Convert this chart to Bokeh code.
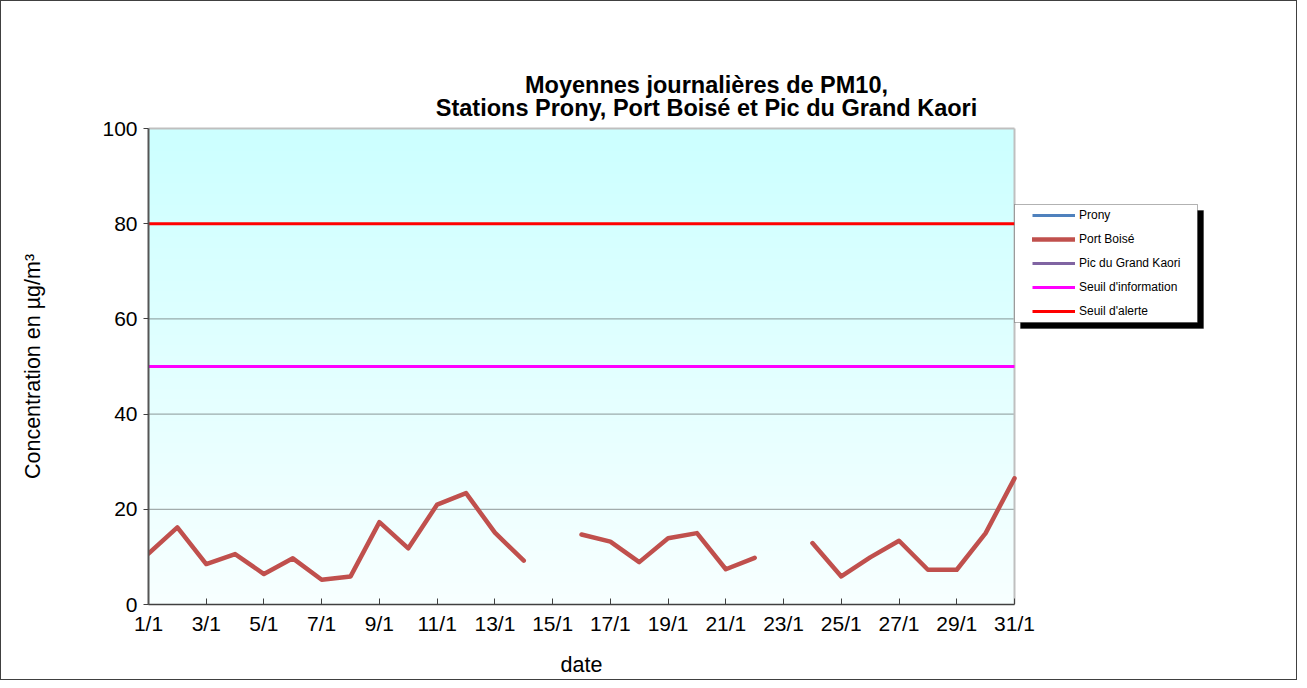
import numpy as np
from bokeh.plotting import figure
from bokeh.layouts import column
from bokeh.models import (Range1d, FixedTicker, Legend, LegendItem, BoxAnnotation,
                          Label, ColumnDataSource)
from bokeh.embed import file_html
from bokeh.resources import INLINE

# ---------------- data ----------------
dates = ["1/1", "2/1", "3/1", "4/1", "5/1", "6/1", "7/1", "8/1", "9/1", "10/1",
         "11/1", "12/1", "13/1", "14/1", "15/1", "16/1", "17/1", "18/1", "19/1", "20/1",
         "21/1", "22/1", "23/1", "24/1", "25/1", "26/1", "27/1", "28/1", "29/1", "30/1", "31/1"]
port_boise = [10.7, 16.2, 8.5, 10.6, 6.4, 9.7, 5.2, 5.9, 17.3, 11.8,
              21.0, 23.4, 15.1, 9.2, None, 14.7, 13.2, 8.9, 13.9, 15.0,
              7.4, 9.8, None, 12.9, 5.9, 9.9, 13.4, 7.3, 7.3, 15.0, 26.5]
prony = [None] * 31
pic_grand_kaori = [None] * 31
seuil_information = [50] * 31
seuil_alerte = [80] * 31
y_ticks = [0, 20, 40, 60, 80, 100]

title_line1 = "Moyennes journalières de PM10,"
title_line2 = "Stations Prony, Port Boisé et Pic du Grand Kaori"
y_label = "Concentration en µg/m³"
x_label = "date"

def arr(v):
    return np.array([np.nan if x is None else x for x in v], dtype=float)

day = np.arange(1, len(dates) + 1)
src = ColumnDataSource(dict(
    day=day,
    prony=arr(prony),
    port=arr(port_boise),
    kaori=arr(pic_grand_kaori),
    info=arr(seuil_information),
    alerte=arr(seuil_alerte),
))

FONT = "Liberation Sans"

# ---------------- layout geometry (canvas px) ----------------
W, H = 1295, 678
PLOT_L, PLOT_R, PLOT_T, PLOT_B = 147, 1013, 127, 603   # data area
FRAME_R, FRAME_T = 1287, 8                              # extended frame
px_day = (PLOT_R - PLOT_L) / (day[-1] - day[0])
px_val = (PLOT_B - PLOT_T) / (y_ticks[-1] - y_ticks[0])
x_end = day[0] + (FRAME_R - PLOT_L) / px_day
y_end = y_ticks[0] + (PLOT_B - FRAME_T) / px_val

def sx(cx):  # canvas x -> frame-relative screen x
    return cx - PLOT_L

def sy(cy):  # canvas y -> frame-relative screen y (upwards)
    return PLOT_B - cy

p = figure(width=W, height=H, output_backend="svg", toolbar_location=None,
           x_range=Range1d(day[0], x_end), y_range=Range1d(y_ticks[0], y_end),
           min_border_left=PLOT_L, min_border_right=W - FRAME_R,
           min_border_top=FRAME_T, min_border_bottom=H - PLOT_B, title=None)
p.background_fill_color = "white"
p.border_fill_color = "white"
p.outline_line_color = None

# gradient background for the plot area
N = 256
t = np.linspace(0, 1, N)  # 0 at bottom, 1 at top
r = (248 + (204 - 248) * t).astype(np.uint32)
img = np.zeros((N, 1), dtype=np.uint32)
view = img.view(dtype=np.uint8).reshape((N, 1, 4))
view[:, 0, 0] = r
view[:, 0, 1] = 255
view[:, 0, 2] = 255
view[:, 0, 3] = 255
p.image_rgba(image=[img], x=day[0], y=y_ticks[0], dw=day[-1] - day[0],
             dh=y_ticks[-1] - y_ticks[0], level="image")

# grid lines (dotted) limited to the data area
grid_vals = y_ticks[1:-1]
p.segment(x0=[day[0]] * len(grid_vals), x1=[day[-1]] * len(grid_vals),
          y0=grid_vals, y1=grid_vals, line_color="#303030", line_dash="1 1",
          line_width=1)
# plot area top/right border
p.segment(x0=[day[0], day[-1]], x1=[day[-1], day[-1]],
          y0=[y_ticks[-1], y_ticks[0]], y1=[y_ticks[-1], y_ticks[-1]],
          line_color="#BFBFBF", line_width=2)

# lines
r_prony = p.line("day", "prony", source=src, line_color="#4F81BD", line_width=3)
r_port = p.line("day", "port", source=src, line_color="#C0504D", line_width=4.5,
                line_join="round", line_cap="round")
r_kaori = p.line("day", "kaori", source=src, line_color="#8064A2", line_width=3)
r_info = p.line("day", "info", source=src, line_color="#FF00FF", line_width=3)
r_alerte = p.line("day", "alerte", source=src, line_color="#FF0000", line_width=3)

# axes
p.xaxis.bounds = (day[0], day[-1])
p.xaxis.ticker = FixedTicker(ticks=list(day[::2]))
p.xaxis.major_label_overrides = {int(d): lab for d, lab in zip(day, dates)}
p.xaxis.major_tick_in = 6
p.xaxis.major_tick_out = 0
p.xaxis.minor_tick_line_color = None
p.xaxis.axis_line_color = "#404040"
p.xaxis.axis_line_width = 1.5
p.xaxis.major_tick_line_color = "#404040"
p.xaxis.major_label_text_font = FONT
p.xaxis.major_label_text_font_size = "21px"
p.xaxis.major_label_text_color = "black"
p.xaxis.major_label_standoff = 7

p.yaxis.bounds = (y_ticks[0], y_ticks[-1])
p.yaxis.ticker = FixedTicker(ticks=y_ticks)
p.yaxis.major_tick_in = 0
p.yaxis.major_tick_out = 5
p.yaxis.minor_tick_line_color = None
p.yaxis.axis_line_color = "#555555"
p.yaxis.axis_line_width = 2
p.yaxis.major_tick_line_color = "#404040"
p.yaxis.major_label_text_font = FONT
p.yaxis.major_label_text_font_size = "21px"
p.yaxis.major_label_text_color = "black"
p.yaxis.major_label_standoff = 6

p.xgrid.grid_line_color = None
p.ygrid.grid_line_color = None

# axis titles as labels in the side panels (panel-relative screen coords)
LBL_SIZE = "21.5px"
YLAB_CX, XLAB_CY = 35, 665
LEFT_PANEL_X0 = 78      # canvas x of the left label panel origin
BELOW_PANEL_Y0 = 662    # canvas y of the below label panel origin (y up)
p.add_layout(Label(x=YLAB_CX - LEFT_PANEL_X0, y=sy((PLOT_T + PLOT_B) / 2),
                   x_units="screen", y_units="screen", text=y_label, angle=np.pi / 2,
                   text_align="center", text_baseline="middle", text_font=FONT,
                   text_font_size=LBL_SIZE, text_color="black"), "left")
p.add_layout(Label(x=sx((PLOT_L + PLOT_R) / 2), y=BELOW_PANEL_Y0 - XLAB_CY,
                   x_units="screen", y_units="screen", text=x_label,
                   text_align="center", text_baseline="middle", text_font=FONT,
                   text_font_size=LBL_SIZE, text_color="black"), "below")

# legend shadow and box
LG_L, LG_R, LG_T, LG_B = 1013, 1196, 203, 321
SH = 6
p.add_layout(BoxAnnotation(left=sx(LG_L + SH), right=sx(LG_R + SH),
                           top=sy(LG_T + SH), bottom=sy(LG_B + SH),
                           left_units="screen", right_units="screen",
                           top_units="screen", bottom_units="screen",
                           fill_color="black", fill_alpha=1, line_color="black"))
p.add_layout(BoxAnnotation(left=sx(LG_L), right=sx(LG_R), top=sy(LG_T), bottom=sy(LG_B),
                           left_units="screen", right_units="screen",
                           top_units="screen", bottom_units="screen",
                           fill_color="white", fill_alpha=1, line_color="black",
                           line_width=1))

legend = Legend(items=[
    LegendItem(label="Prony", renderers=[r_prony]),
    LegendItem(label="Port Boisé", renderers=[r_port]),
    LegendItem(label="Pic du Grand Kaori", renderers=[r_kaori]),
    LegendItem(label="Seuil d'information", renderers=[r_info]),
    LegendItem(label="Seuil d'alerte", renderers=[r_alerte]),
], location=(sx(1031), sy(322)))
legend.background_fill_alpha = 0
legend.border_line_alpha = 0
legend.padding = 0
legend.margin = 0
legend.spacing = 0
legend.glyph_width = 43
legend.glyph_height = 24
legend.label_height = 24
legend.label_standoff = 4
legend.label_text_font = FONT
legend.label_text_font_size = "12px"
legend.label_text_color = "black"
p.add_layout(legend, "center")

# title (two lines)
TITLE_CX = 705
for txt, cy in ((title_line1, 83), (title_line2, 106)):
    p.add_layout(Label(x=sx(TITLE_CX), y=sy(cy), x_units="screen", y_units="screen",
                       text=txt, text_align="center", text_baseline="middle",
                       text_font=FONT, text_font_size="23.5px", text_font_style="bold",
                       text_color="black"))

layout = column(p, styles={"border": "1px solid #404040"})
open("out.html", "w").write(file_html(layout, INLINE))
